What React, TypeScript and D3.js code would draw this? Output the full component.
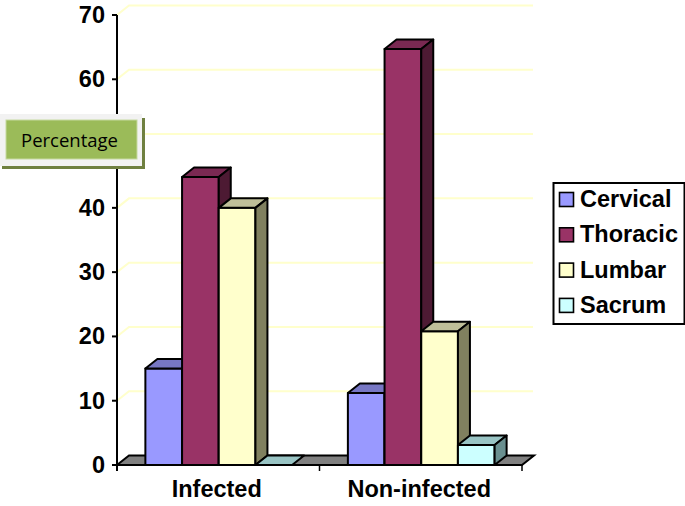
import React from "react";
import * as d3 from "d3";

const categories = ["Infected", "Non-infected"];
const seriesNames = ["Cervical", "Thoracic", "Lumbar", "Sacrum"];
const cervical = [15, 11.2];
const thoracic = [44.8, 64.7];
const lumbar = [40, 20.8];
const sacrum = [0, 3.1];
const yTicks = [0, 10, 20, 30, 40, 50, 60, 70];
const coveredTickLabels = [50];
const frontColors = ["#9999FF", "#993366", "#FFFFCC", "#CCFFFF"];
const topColors = ["#7777C4", "#7A2952", "#BFBF99", "#99C4C4"];
const sideColors = ["#5F5F9F", "#4D1A33", "#80805F", "#6A9090"];

const values = [cervical, thoracic, lumbar, sacrum];
const DX = 12;
const DY = 9.5;
const font = "'Liberation Sans', Arial, sans-serif";

export default function App() {
  const y = d3.scaleLinear().domain([0, 70]).range([465, 15]);
  const x0 = d3.scaleBand().domain(categories).range([117, 522]);
  const x1 = d3
    .scaleBand()
    .domain(seriesNames)
    .range([0.5, x0.bandwidth() + 0.5])
    .paddingOuter(0.76)
    .paddingInner(0);
  const pts = (a: number[][]) => a.map((p) => p.join(",")).join(" ");
  const base = y(0);
  return (
    <svg width={685} height={506} style={{ position: "absolute", left: 0, top: 0, background: "#fff" }}>
      {yTicks.slice(1).map((t) => (
        <polyline
          key={t}
          points={pts([[117, y(t)], [117 + DX, y(t) - DY], [533, y(t) - DY]])}
          fill="none"
          stroke="#FFFFCC"
          strokeWidth={2}
        />
      ))}
      <polygon
        points={pts([[117, base], [117 + DX, base - DY], [522 + DX, base - DY], [522, base]])}
        fill="#808080"
        stroke="#000"
        strokeWidth={2}
      />
      {categories.map((c, ci) =>
        seriesNames.map((s, si) => {
          const l = x0(c)! + x1(s)!;
          const r = l + x1.bandwidth();
          const t = y(values[si][ci]);
          return (
            <g key={c + s} stroke="#000" strokeWidth={2} strokeLinejoin="round">
              {t < base && (
                <rect x={l} y={t} width={r - l} height={base - t} fill={frontColors[si]} />
              )}
              <polygon
                points={pts([[l, t], [l + DX, t - DY], [r + DX, t - DY], [r, t]])}
                fill={topColors[si]}
              />
              {t < base && (
                <polygon
                  points={pts([[r, t], [r + DX, t - DY], [r + DX, base - DY], [r, base]])}
                  fill={sideColors[si]}
                />
              )}
            </g>
          );
        })
      )}
      <line x1={117} x2={117} y1={15} y2={471} stroke="#000" strokeWidth={2} />
      <line x1={112} x2={522} y1={base} y2={base} stroke="#000" strokeWidth={2} />
      {yTicks.map((t) => (
        <g key={t}>
          <line x1={112} x2={117} y1={y(t)} y2={y(t)} stroke="#000" strokeWidth={2} />
          {!coveredTickLabels.includes(t) && (
            <text
              x={105}
              y={y(t) + 8}
              textAnchor="end"
              fontFamily={font}
              fontWeight="bold"
              fontSize={23.5}
              fill="#000"
            >
              {t}
            </text>
          )}
        </g>
      ))}
      {[117, 117 + x0.bandwidth(), 522].map((v) => (
        <line key={v} x1={v} x2={v} y1={base} y2={471} stroke="#000" strokeWidth={1.5} />
      ))}
      {categories.map((c) => (
        <text
          key={c}
          x={x0(c)! + x0.bandwidth() / 2 - 1.5}
          y={496.5}
          textAnchor="middle"
          fontFamily={font}
          fontWeight="bold"
          fontSize={23.5}
          fill="#000"
        >
          {c}
        </text>
      ))}
      <rect x={553.5} y={183} width={131} height={141} fill="#fff" stroke="#000" strokeWidth={2} />
      {seriesNames.map((s, i) => {
        const cy = 199.5 + i * 35.3;
        return (
          <g key={s}>
            <rect x={559.5} y={cy - 7} width={14} height={14} fill={frontColors[i]} stroke="#000" strokeWidth={1.6} />
            <text x={580} y={cy + 7.5} fontFamily={font} fontWeight="bold" fontSize={23.5} fill="#000">
              {s}
            </text>
          </g>
        );
      })}
      <rect x={2} y={118} width={143} height={51} fill="#6F8040" />
      <rect x={0} y={114} width={142} height={52} fill="#F2F2F2" />
      <rect x={6} y={120} width={131} height={39} fill="#9BBB59" stroke="#C6D9A0" strokeWidth={1} />
      <text x={69.5} y={147} textAnchor="middle" fontFamily="'Open Sans', sans-serif" fontSize={18.5} fill="#000">
        Percentage
      </text>
    </svg>
  );
}
